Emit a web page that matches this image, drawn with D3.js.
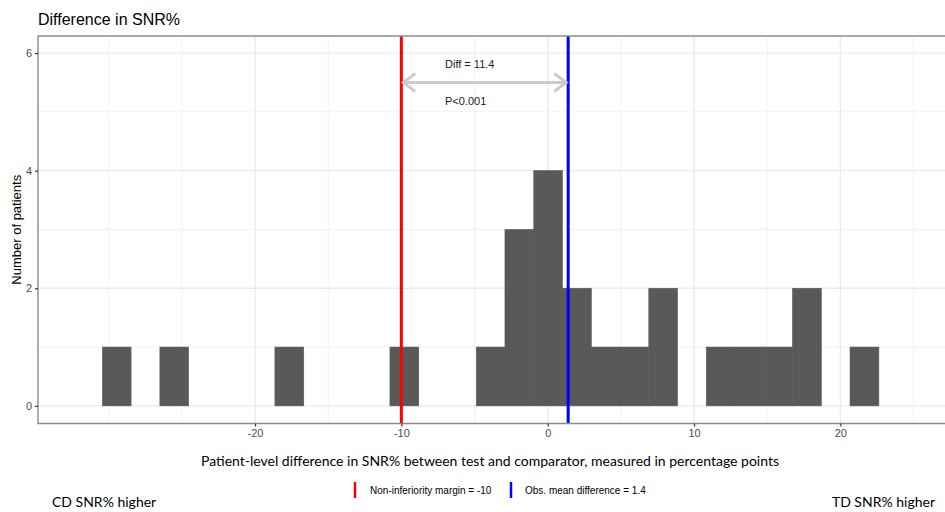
<!DOCTYPE html>
<html>
<head>
<meta charset="utf-8">
<script src="https://cdn.jsdelivr.net/npm/d3@7"></script>
<style>
  body { margin: 0; background: #fff; }
  svg text { font-family: "Liberation Sans", Arial, sans-serif; }
</style>
</head>
<body>
<div id="chart"></div>
<script>
(function(){
	var width = 945,
	    height = 512;

	// histogram bins (left edge of each bin, percentage points)
	var binEdges = [-30.43, -28.47, -26.5, -24.54, -22.57, -20.6, -18.64, -16.67, -14.71, -12.74,
	                -10.78, -8.81, -6.85, -4.88, -2.92, -0.95, 1.01, 2.98, 4.94, 6.91,
	                8.87, 10.84, 12.8, 14.77, 16.73, 18.7, 20.66, 22.63];
	var counts = [1, 0, 1, 0, 0, 0, 1, 0, 0, 0,
	              1, 0, 0, 1, 3, 4, 2, 1, 1, 2,
	              0, 1, 1, 1, 2, 0, 1];

	var margin = -10,
	    meanDiff = 1.4;

	var xTicks = [-20, -10, 0, 10, 20],
	    xMinor = [-30, -25, -15, -5, 5, 15, 25],
	    yTicks = [0, 2, 4, 6],
	    yMinor = [1, 3, 5];

	// plain hyphen for negatives, like the original
	var fmt = function(d) { return String(d) }

	var svg = d3.select("#chart")
	  .append("svg")
	  .attr("width", width)
	  .attr("height", height)

	var left = 38, right = 945, top = 36, bottom = 423.5;

	var x = d3.scaleLinear().domain([-34.83, 27.15]).range([left, right])
	var y = d3.scaleLinear().domain([-0.3, 6.29]).range([bottom, top])

	// gridlines
	var grid = svg.append("g")
	grid.selectAll(".xminor").data(xMinor).enter().append("line")
	  .attr("x1", d => x(d)).attr("x2", d => x(d))
	  .attr("y1", top).attr("y2", bottom)
	  .attr("stroke", "#f2f2f2").attr("stroke-width", 1)
	grid.selectAll(".yminor").data(yMinor).enter().append("line")
	  .attr("x1", left).attr("x2", right)
	  .attr("y1", d => y(d)).attr("y2", d => y(d))
	  .attr("stroke", "#f2f2f2").attr("stroke-width", 1)
	grid.selectAll(".xmajor").data(xTicks).enter().append("line")
	  .attr("x1", d => x(d)).attr("x2", d => x(d))
	  .attr("y1", top).attr("y2", bottom)
	  .attr("stroke", "#ebebeb").attr("stroke-width", 1.3)
	grid.selectAll(".ymajor").data(yTicks).enter().append("line")
	  .attr("x1", left).attr("x2", right)
	  .attr("y1", d => y(d)).attr("y2", d => y(d))
	  .attr("stroke", "#ebebeb").attr("stroke-width", 1.3)

	// bars
	var bins = counts.map(function(c, i) {
		return { x0: binEdges[i], x1: binEdges[i + 1], n: c }
	}).filter(d => d.n > 0)

	svg.append("g").selectAll("rect")
	  .data(bins)
	  .enter().append("rect")
	  .attr("x", d => x(d.x0))
	  .attr("width", d => x(d.x1) - x(d.x0))
	  .attr("y", d => y(d.n))
	  .attr("height", d => y(0) - y(d.n))
	  .attr("fill", "#595959")
	  .attr("stroke", "#595959")
	  .attr("stroke-width", 0.6)

	// reference lines
	svg.append("line")
	  .attr("x1", x(margin)).attr("x2", x(margin))
	  .attr("y1", top).attr("y2", bottom)
	  .attr("stroke", "#ff0000").attr("stroke-width", 3)
	svg.append("line")
	  .attr("x1", x(meanDiff)).attr("x2", x(meanDiff))
	  .attr("y1", top).attr("y2", bottom)
	  .attr("stroke", "#0000ff").attr("stroke-width", 3)

	// double arrow between the lines
	var ay = y(5.5)
	var arrow = svg.append("g")
	  .attr("stroke", "#cccccc").attr("stroke-width", 3).attr("fill", "none")
	arrow.append("line")
	  .attr("x1", x(margin) + 2).attr("x2", x(meanDiff) - 2)
	  .attr("y1", ay).attr("y2", ay)
	arrow.append("path")
	  .attr("d", "M" + (x(margin) + 14) + "," + (ay - 9) + "L" + (x(margin) + 2) + "," + ay + "L" + (x(margin) + 14) + "," + (ay + 9))
	arrow.append("path")
	  .attr("d", "M" + (x(meanDiff) - 14) + "," + (ay - 9) + "L" + (x(meanDiff) - 2) + "," + ay + "L" + (x(meanDiff) - 14) + "," + (ay + 9))

	svg.append("text")
	  .attr("x", 445).attr("y", y(5.5) - 14)
	  .attr("font-size", 11).attr("fill", "#1a1a1a")
	  .text("Diff = " + (meanDiff - margin).toFixed(1))
	svg.append("text")
	  .attr("x", 445).attr("y", y(5.5) + 23)
	  .attr("font-size", 11).attr("fill", "#1a1a1a")
	  .text("P<0.001")

	// panel border (top, left, bottom)
	svg.append("path")
	  .attr("d", "M" + right + "," + top + "H" + left + "V" + bottom + "H" + right)
	  .attr("fill", "none").attr("stroke", "#8c8c8c").attr("stroke-width", 1.4)

	// axes
	var xAxis = svg.append("g")
	  .attr("transform", "translate(0," + bottom + ")")
	  .call(d3.axisBottom(x).tickValues(xTicks).tickSize(3).tickPadding(3).tickFormat(fmt))
	xAxis.select(".domain").remove()
	xAxis.selectAll("line").attr("stroke", "#333").attr("stroke-width", 1.2)
	xAxis.selectAll("text").attr("fill", "#4d4d4d").attr("font-size", 11)

	var yAxis = svg.append("g")
	  .attr("transform", "translate(" + left + ",0)")
	  .call(d3.axisLeft(y).tickValues(yTicks).tickSize(3).tickPadding(3).tickFormat(fmt))
	yAxis.select(".domain").remove()
	yAxis.selectAll("line").attr("stroke", "#333").attr("stroke-width", 1.2)
	yAxis.selectAll("text").attr("fill", "#4d4d4d").attr("font-size", 11)

	// titles
	svg.append("text")
	  .attr("x", 38).attr("y", 25)
	  .attr("font-size", 16).attr("fill", "#000")
	  .text("Difference in SNR%")

	svg.append("text")
	  .attr("transform", "translate(21," + ((top + bottom) / 2) + ") rotate(-90)")
	  .attr("text-anchor", "middle")
	  .attr("font-size", 13).attr("fill", "#000")
	  .text("Number of patients")

	svg.append("text")
	  .attr("x", 490).attr("y", 466)
	  .attr("text-anchor", "middle")
	  .attr("font-size", 14).attr("fill", "#000")
	  .style("font-family", "Lato, sans-serif")
	  .text("Patient-level difference in SNR% between test and comparator, measured in percentage points")

	// legend
	var legend = svg.append("g")
	legend.append("line").attr("x1", 355).attr("x2", 355).attr("y1", 482).attr("y2", 498)
	  .attr("stroke", "#ff0000").attr("stroke-width", 2.5)
	legend.append("text").attr("x", 370).attr("y", 494)
	  .attr("font-size", 10).attr("fill", "#000")
	  .text("Non-inferiority margin = " + margin)
	legend.append("line").attr("x1", 511).attr("x2", 511).attr("y1", 482).attr("y2", 498)
	  .attr("stroke", "#0000ff").attr("stroke-width", 2.5)
	legend.append("text").attr("x", 525).attr("y", 494)
	  .attr("font-size", 10).attr("fill", "#000")
	  .text("Obs. mean difference = " + meanDiff)

	svg.append("text")
	  .attr("x", 52).attr("y", 507)
	  .attr("font-size", 14).attr("fill", "#000")
	  .style("font-family", "Lato, sans-serif")
	  .text("CD SNR% higher")
	svg.append("text")
	  .attr("x", 935).attr("y", 507)
	  .attr("text-anchor", "end")
	  .attr("font-size", 14).attr("fill", "#000")
	  .style("font-family", "Lato, sans-serif")
	  .text("TD SNR% higher")
})();
</script>
</body>
</html>
